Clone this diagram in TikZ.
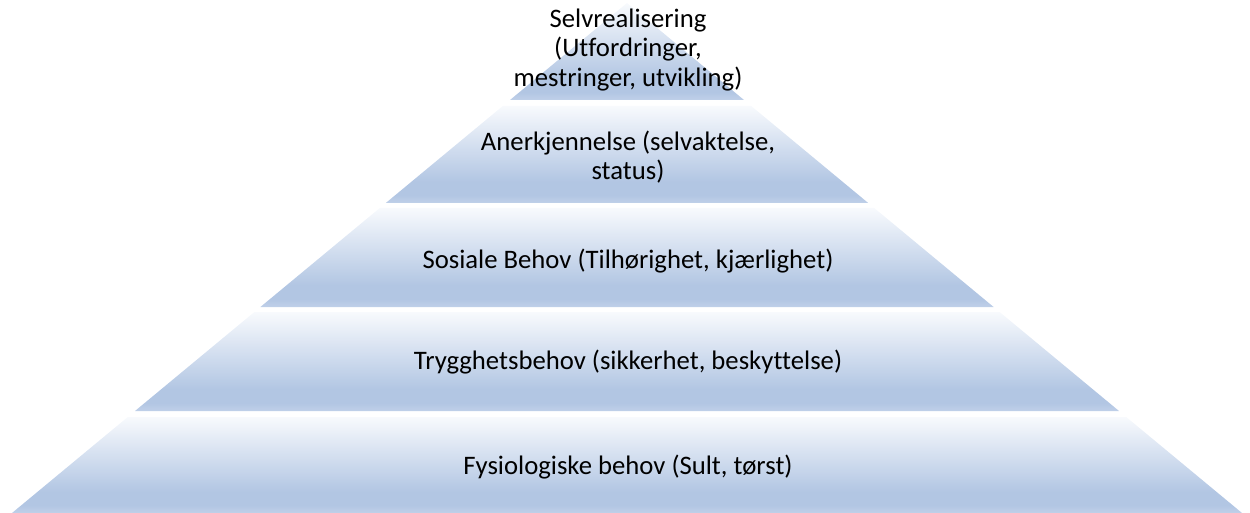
\documentclass[tikz,border=0pt]{standalone}
\usepackage{fontspec}
\setmainfont[Ligatures=CommonOff]{Carlito}
\usepackage{tikz}

\definecolor{layerblue}{RGB}{178,198,227}
\definecolor{layerlow}{RGB}{192,208,233}
\definecolor{layertop}{RGB}{248,250,253}
\pgfdeclareverticalshading{layershade}{100bp}{color(0bp)=(layerlow); color(25bp)=(layerlow); color(29bp)=(layerblue); color(36bp)=(layerblue); color(75bp)=(layertop); color(100bp)=(layertop)}

\begin{document}
\begin{tikzpicture}[x=0.02cm, y=-0.02cm,
    layer/.style={shading=layershade, draw=none},
    label/.style={align=center, font=\fontsize{15.2pt}{16.6pt}\selectfont, inner sep=0pt}]
    \useasboundingbox (0,0) rectangle (1250,513);
    \path[layer] (627,3) -- (744,100) -- (510,100) -- cycle;
    \path[layer] (502.8,106) -- (751.2,106) -- (868.2,203) -- (385.8,203) -- cycle;
    \path[layer] (379.8,208) -- (874.2,208) -- (993.6,307) -- (260.4,307) -- cycle;
    \path[layer] (254.4,312) -- (999.6,312) -- (1119,411) -- (135,411) -- cycle;
    \path[layer] (127.8,417) -- (1126.2,417) -- (1242,513) -- (12,513) -- cycle;
    \node[label] (selv) at (628,50) {Selvrealisering\\(Utfordringer,\\mestringer, utvikling)};
    \node[label] (aner) at (628,157) {Anerkjennelse (selvaktelse,\\status)};
    \node[label] (sosial) at (628,261) {Sosiale Behov (Tilhørighet, kjærlighet)};
    \node[label] (trygg) at (628,362) {Trygghetsbehov (sikkerhet, beskyttelse)};
    \node[label] (fysio) at (628,467) {Fysiologiske behov (Sult, tørst)};
\end{tikzpicture}
\end{document}
